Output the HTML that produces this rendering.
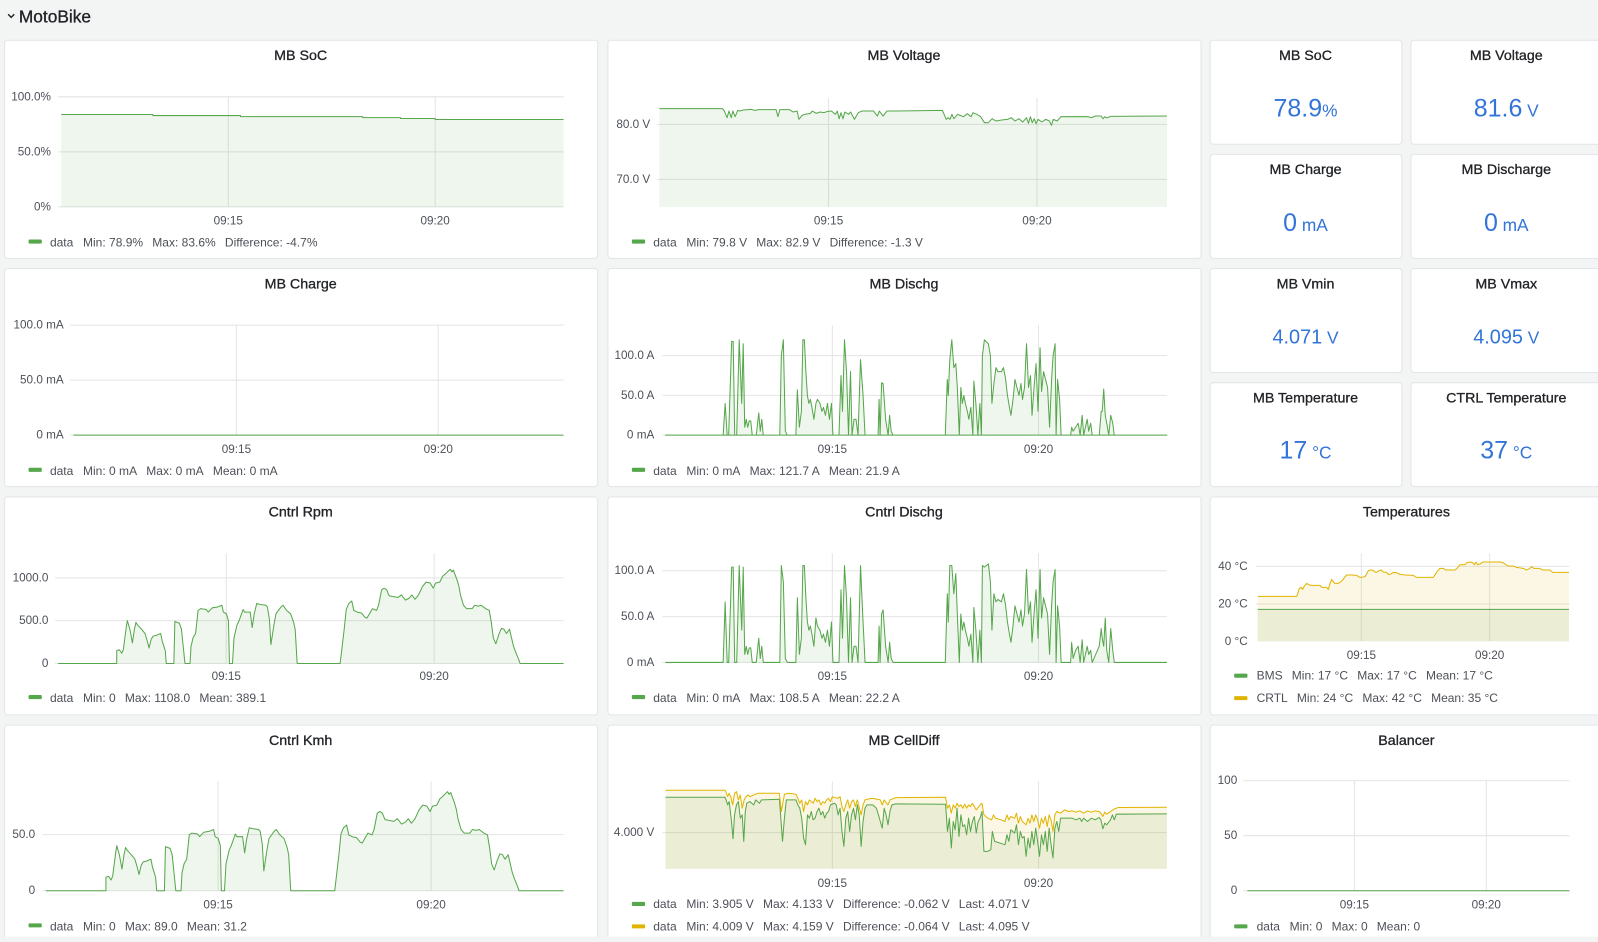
<!DOCTYPE html>
<html><head><meta charset="utf-8">
<style>
html,body{margin:0;padding:0;background:#f3f4f4;width:1598px;height:936px;overflow:hidden}
#r{position:absolute;left:0;top:0;width:1568px;height:919px;transform:scale(1.019133);transform-origin:0 0}
svg text{font-family:"Liberation Sans",Arial,sans-serif}
.p{fill:#fff;stroke:#e2e4e7;stroke-width:1}
.t{font-size:14px;fill:#202226;stroke:#202226;stroke-width:0.3;text-anchor:middle;dominant-baseline:central;transform:translateY(1px)}
.y{font-size:11.5px;fill:#4d5058;text-anchor:end;dominant-baseline:central}
.x{font-size:11.5px;fill:#4d5058;text-anchor:middle;dominant-baseline:central}
.l{font-size:11.8px;fill:#4d5058;dominant-baseline:central;transform:translateY(1px)}
.g{stroke:#e4e4e4;stroke-width:1;fill:none}
.s{fill:none;stroke:#56a64b;stroke-width:1;vector-effect:non-scaling-stroke;stroke-linejoin:round}
.a{fill:#56a64b;fill-opacity:0.1;stroke:none}
.sy{fill:none;stroke:#e0b400;stroke-width:1;vector-effect:non-scaling-stroke;stroke-linejoin:round}
.ay{fill:#e0b400;fill-opacity:0.1;stroke:none}
.v{font-size:24.5px;fill:#3274d9;text-anchor:middle}
.v2{font-size:19.5px;fill:#3274d9;text-anchor:middle}
.u{font-size:17px}
.sw{fill:#56a64b}
.swy{fill:#e0b400}
</style></head>
<body>
<div id="r">
<svg width="1568" height="919" xmlns="http://www.w3.org/2000/svg">
<rect x="0" y="0" width="1568" height="919" fill="#f3f4f4"/>
<!-- header -->
<polyline points="8,14 11,17 14,14" fill="none" stroke="#202226" stroke-width="1.4"/>
<text x="18.5" y="16" style="font-size:17px;fill:#202226;stroke:#202226;stroke-width:0.3;dominant-baseline:central">MotoBike</text>

<!-- ===== Panel A: MB SoC ===== -->
<rect class="p" x="4.5" y="39.5" width="582" height="214" rx="3"/>
<text class="t" x="295" y="54">MB SoC</text>
<path class="g" d="M57,95H553M57,149H553M57,203H553M224,95V203M427,95V203"/>
<text class="y" x="50" y="95">100.0%</text>
<text class="y" x="50" y="149">50.0%</text>
<text class="y" x="50" y="203">0%</text>
<path class="a" d="M60,112.4H150V113.4H236V114.4H356V115.4H393V116.3H427V117.3H553V203H60Z"/>
<path class="s" d="M60,112.4H150V113.4H236V114.4H356V115.4H393V116.3H427V117.3H553"/>
<text class="x" x="224" y="217">09:15</text>
<text class="x" x="427" y="217">09:20</text>
<rect class="sw" x="28" y="235" width="13" height="4" rx="1"/>
<text class="l" x="49" y="237">data<tspan dx="9.5">Min: 78.9%</tspan><tspan dx="9">Max: 83.6%</tspan><tspan dx="9">Difference: -4.7%</tspan></text>

<!-- ===== Panel B: MB Voltage ===== -->
<rect class="p" x="596.5" y="39.5" width="582" height="214" rx="3"/>
<text class="t" x="887" y="54">MB Voltage</text>
<path class="g" d="M645,122H1145M645,176H1145M813,96V203M1017.5,96V203"/>
<text class="y" x="638" y="122">80.0 V</text>
<text class="y" x="638" y="176">70.0 V</text>
<svg x="647" y="96" width="498" height="107" viewBox="180 205.5 1327 327" preserveAspectRatio="none" overflow="visible">
<path class="a" d="M180,238 L345,238 L350,245 L357,265 L362,245 L368,265 L372,245 L378,262 L385,243 L390,245 L400,242 L420,240 L430,243 L440,241 L485,241 L490,262 L495,241 L520,241 L530,248 L540,245 L545,270 L553,258 L560,255 L575,252 L580,245 L590,252 L600,248 L610,250 L620,246 L630,245 L640,255 L645,245 L650,268 L655,250 L660,268 L665,248 L675,255 L680,248 L690,270 L700,250 L710,245 L740,245 L750,260 L755,245 L765,260 L775,245 L800,245 L920,243 L930,270 L935,265 L940,270 L945,255 L950,268 L960,255 L975,262 L985,253 L995,262 L1000,250 L1010,255 L1020,262 L1030,280 L1040,280 L1050,268 L1060,275 L1075,272 L1090,270 L1100,265 L1110,275 L1120,268 L1130,278 L1140,265 L1145,282 L1150,262 L1155,280 L1160,268 L1165,283 L1170,270 L1180,278 L1190,270 L1200,275 L1205,288 L1210,270 L1220,275 L1225,268 L1230,262 L1300,262 L1310,265 L1320,260 L1335,260 L1340,268 L1345,262 L1350,266 L1360,261 L1507,260 L1507,532.5 L180,532.5Z"/>
<path class="s" d="M180,238 L345,238 L350,245 L357,265 L362,245 L368,265 L372,245 L378,262 L385,243 L390,245 L400,242 L420,240 L430,243 L440,241 L485,241 L490,262 L495,241 L520,241 L530,248 L540,245 L545,270 L553,258 L560,255 L575,252 L580,245 L590,252 L600,248 L610,250 L620,246 L630,245 L640,255 L645,245 L650,268 L655,250 L660,268 L665,248 L675,255 L680,248 L690,270 L700,250 L710,245 L740,245 L750,260 L755,245 L765,260 L775,245 L800,245 L920,243 L930,270 L935,265 L940,270 L945,255 L950,268 L960,255 L975,262 L985,253 L995,262 L1000,250 L1010,255 L1020,262 L1030,280 L1040,280 L1050,268 L1060,275 L1075,272 L1090,270 L1100,265 L1110,275 L1120,268 L1130,278 L1140,265 L1145,282 L1150,262 L1155,280 L1160,268 L1165,283 L1170,270 L1180,278 L1190,270 L1200,275 L1205,288 L1210,270 L1220,275 L1225,268 L1230,262 L1300,262 L1310,265 L1320,260 L1335,260 L1340,268 L1345,262 L1350,266 L1360,261 L1507,260"/>
</svg>
<text class="x" x="813" y="217">09:15</text>
<text class="x" x="1017.5" y="217">09:20</text>
<rect class="sw" x="620" y="235" width="13" height="4" rx="1"/>
<text class="l" x="641" y="237">data<tspan dx="9.5">Min: 79.8 V</tspan><tspan dx="9">Max: 82.9 V</tspan><tspan dx="9">Difference: -1.3 V</tspan></text>

<!-- ===== Stat panels ===== -->
<rect class="p" x="1187.5" y="39.5" width="188" height="102" rx="3"/>
<rect class="p" x="1384.5" y="39.5" width="189" height="102" rx="3"/>
<rect class="p" x="1187.5" y="151.5" width="188" height="102" rx="3"/>
<rect class="p" x="1384.5" y="151.5" width="189" height="102" rx="3"/>
<rect class="p" x="1187.5" y="263.5" width="188" height="102" rx="3"/>
<rect class="p" x="1384.5" y="263.5" width="189" height="102" rx="3"/>
<rect class="p" x="1187.5" y="375.5" width="188" height="102" rx="3"/>
<rect class="p" x="1384.5" y="375.5" width="189" height="102" rx="3"/>
<text class="t" x="1281" y="54">MB SoC</text>
<text class="t" x="1478" y="54">MB Voltage</text>
<text class="t" x="1281" y="166">MB Charge</text>
<text class="t" x="1478" y="166">MB Discharge</text>
<text class="t" x="1281" y="278">MB Vmin</text>
<text class="t" x="1478" y="278">MB Vmax</text>
<text class="t" x="1281" y="390">MB Temperature</text>
<text class="t" x="1478" y="390">CTRL Temperature</text>
<text class="v" x="1281" y="114.5">78.9<tspan class="u">%</tspan></text>
<text class="v" x="1478" y="114.5">81.6<tspan class="u"> V</tspan></text>
<text class="v" x="1281" y="226.5">0<tspan class="u"> mA</tspan></text>
<text class="v" x="1478" y="226.5">0<tspan class="u"> mA</tspan></text>
<text class="v2" x="1281" y="337">4.071<tspan class="u"> V</tspan></text>
<text class="v2" x="1478" y="337">4.095<tspan class="u"> V</tspan></text>
<text class="v" x="1281" y="450">17<tspan class="u"> °C</tspan></text>
<text class="v" x="1478" y="450">37<tspan class="u"> °C</tspan></text>

<!-- ===== Panel C: MB Charge ===== -->
<rect class="p" x="4.5" y="263.5" width="582" height="214" rx="3"/>
<text class="t" x="295" y="278">MB Charge</text>
<path class="g" d="M69,319H553M69,373H553M69,427H553M232,319V427M430,319V427"/>
<text class="y" x="62.5" y="319">100.0 mA</text>
<text class="y" x="62.5" y="373">50.0 mA</text>
<text class="y" x="62.5" y="427">0 mA</text>
<path class="s" d="M72,427H553"/>
<text class="x" x="232" y="441">09:15</text>
<text class="x" x="430" y="441">09:20</text>
<rect class="sw" x="28" y="459" width="13" height="4" rx="1"/>
<text class="l" x="49" y="461">data<tspan dx="9.5">Min: 0 mA</tspan><tspan dx="9">Max: 0 mA</tspan><tspan dx="9">Mean: 0 mA</tspan></text>

<!-- ===== Panel D: MB Dischg ===== -->
<rect class="p" x="596.5" y="263.5" width="582" height="214" rx="3"/>
<text class="t" x="887" y="278">MB Dischg</text>
<path class="g" d="M650,349H1145M650,388H1145M650,427H1145M816.7,319V427M1019,319V427"/>
<text class="y" x="642" y="349">100.0 A</text>
<text class="y" x="642" y="388">50.0 A</text>
<text class="y" x="642" y="427">0 mA</text>
<svg x="653" y="319" width="492" height="108" viewBox="0 -138.5 1000 138.5" preserveAspectRatio="none" overflow="visible">
<path class="a" d="M0,0 L115,0 L119,-40 L123,0 L126,0 L132,-118 L135,-118 L138,0 L142,0 L147,-120 L152,-40 L155,-115 L158,-10 L161,-20 L164,-10 L167,-18 L170,-18 L173,0 L181,0 L186,-28 L189,-5 L192,-20 L195,0 L228,0 L231,-100 L235,-120 L239,-5 L243,0 L260,0 L263,-57 L267,-10 L271,-30 L274,-120 L277,-120 L280,-80 L283,-50 L286,-40 L289,-45 L292,-35 L296,-20 L300,-40 L303,-45 L308,-40 L312,-30 L315,-35 L319,-25 L323,-40 L327,-20 L331,-40 L334,0 L346,0 L350,-75 L353,-30 L357,-120 L361,-80 L365,0 L369,-80 L372,0 L376,-20 L380,-20 L384,0 L389,-95 L394,-50 L398,0 L424,0 L426,-45 L428,0 L431,-66 L434,-65 L439,-20 L444,0 L447,-25 L450,-5 L454,0 L558,0 L562,-70 L564,-50 L567,-95 L571,-120 L575,-85 L579,-90 L582,-60 L586,0 L589,-60 L592,-40 L595,-50 L598,-40 L602,-30 L605,-20 L609,-35 L613,0 L615,-68 L619,-40 L623,0 L627,-40 L630,0 L632,-100 L636,-120 L644,-115 L648,-100 L651,-40 L655,-65 L659,-85 L663,-80 L670,-80 L674,-85 L678,-72 L682,-50 L686,-35 L689,-25 L693,-45 L697,-70 L701,-60 L705,-50 L709,-65 L712,-45 L716,-60 L720,-115 L724,-60 L728,-75 L731,-25 L735,-60 L739,-90 L743,-30 L747,-110 L750,-55 L754,-80 L758,-70 L762,-60 L766,-10 L770,-70 L773,-100 L777,-115 L779,0 L782,-70 L786,-45 L789,0 L808,0 L810,-10 L813,-5 L818,-10 L823,-15 L827,0 L831,-25 L834,0 L841,-20 L844,-5 L848,-15 L851,0 L865,0 L869,-30 L871,-30 L874,-58 L877,-25 L880,-15 L884,0 L888,-25 L892,-15 L895,0 L1000,0 Z"/>
<path class="s" d="M0,0 L115,0 L119,-40 L123,0 L126,0 L132,-118 L135,-118 L138,0 L142,0 L147,-120 L152,-40 L155,-115 L158,-10 L161,-20 L164,-10 L167,-18 L170,-18 L173,0 L181,0 L186,-28 L189,-5 L192,-20 L195,0 L228,0 L231,-100 L235,-120 L239,-5 L243,0 L260,0 L263,-57 L267,-10 L271,-30 L274,-120 L277,-120 L280,-80 L283,-50 L286,-40 L289,-45 L292,-35 L296,-20 L300,-40 L303,-45 L308,-40 L312,-30 L315,-35 L319,-25 L323,-40 L327,-20 L331,-40 L334,0 L346,0 L350,-75 L353,-30 L357,-120 L361,-80 L365,0 L369,-80 L372,0 L376,-20 L380,-20 L384,0 L389,-95 L394,-50 L398,0 L424,0 L426,-45 L428,0 L431,-66 L434,-65 L439,-20 L444,0 L447,-25 L450,-5 L454,0 L558,0 L562,-70 L564,-50 L567,-95 L571,-120 L575,-85 L579,-90 L582,-60 L586,0 L589,-60 L592,-40 L595,-50 L598,-40 L602,-30 L605,-20 L609,-35 L613,0 L615,-68 L619,-40 L623,0 L627,-40 L630,0 L632,-100 L636,-120 L644,-115 L648,-100 L651,-40 L655,-65 L659,-85 L663,-80 L670,-80 L674,-85 L678,-72 L682,-50 L686,-35 L689,-25 L693,-45 L697,-70 L701,-60 L705,-50 L709,-65 L712,-45 L716,-60 L720,-115 L724,-60 L728,-75 L731,-25 L735,-60 L739,-90 L743,-30 L747,-110 L750,-55 L754,-80 L758,-70 L762,-60 L766,-10 L770,-70 L773,-100 L777,-115 L779,0 L782,-70 L786,-45 L789,0 L808,0 L810,-10 L813,-5 L818,-10 L823,-15 L827,0 L831,-25 L834,0 L841,-20 L844,-5 L848,-15 L851,0 L865,0 L869,-30 L871,-30 L874,-58 L877,-25 L880,-15 L884,0 L888,-25 L892,-15 L895,0 L1000,0 Z"/>
</svg>
<text class="x" x="816.7" y="441">09:15</text>
<text class="x" x="1019" y="441">09:20</text>
<rect class="sw" x="620" y="459" width="13" height="4" rx="1"/>
<text class="l" x="641" y="461">data<tspan dx="9.5">Min: 0 mA</tspan><tspan dx="9">Max: 121.7 A</tspan><tspan dx="9">Mean: 21.9 A</tspan></text>

<!-- ===== Panel E: Cntrl Rpm ===== -->
<rect class="p" x="4.5" y="487.5" width="582" height="214" rx="3"/>
<text class="t" x="295" y="502">Cntrl Rpm</text>
<path class="g" d="M54,567H553M54,609H553M54,651H553M222,543V651M426,543V651"/>
<text class="y" x="47.5" y="567">1000.0</text>
<text class="y" x="47.5" y="609">500.0</text>
<text class="y" x="47.5" y="651">0</text>
<svg x="57" y="543" width="496" height="108" viewBox="0 -1285.7 1000 1285.7" preserveAspectRatio="none" overflow="visible">
<path class="a" d="M0,0 L116,0 L116,-150 L121,-160 L126,-120 L129,-160 L135,-430 L137,-500 L142,-400 L147,-240 L151,-400 L154,-480 L157,-450 L165,-400 L172,-350 L177,-250 L180,-180 L184,-280 L188,-320 L195,-330 L203,-350 L206,-260 L212,-150 L214,0 L229,0 L231,-490 L240,-470 L244,-400 L251,0 L261,0 L263,-200 L267,-300 L272,-350 L277,-620 L282,-640 L293,-630 L297,-600 L305,-650 L316,-660 L324,-680 L327,-600 L333,-580 L337,-500 L339,0 L345,0 L348,-300 L354,-450 L358,-500 L366,-630 L369,-600 L380,-600 L384,-420 L388,-580 L393,-700 L399,-690 L411,-680 L414,-660 L418,-520 L421,-220 L427,-450 L431,-580 L441,-660 L445,-680 L452,-620 L460,-580 L466,-480 L469,-400 L473,0 L558,0 L560,-100 L566,-400 L570,-630 L575,-700 L581,-730 L585,-620 L592,-600 L600,-590 L607,-540 L611,-530 L615,-570 L622,-640 L630,-620 L634,-680 L640,-860 L645,-880 L650,-860 L655,-790 L664,-780 L672,-770 L679,-800 L687,-740 L694,-760 L700,-800 L706,-750 L713,-800 L721,-900 L728,-950 L736,-940 L742,-880 L747,-940 L755,-950 L761,-1020 L767,-1050 L772,-1080 L776,-1100 L779,-1070 L782,-1090 L789,-980 L793,-900 L796,-800 L802,-680 L808,-640 L819,-640 L824,-680 L831,-670 L837,-680 L846,-640 L853,-620 L857,-480 L861,-300 L866,-230 L872,-340 L877,-410 L882,-400 L887,-350 L893,-400 L897,-300 L901,-200 L906,-120 L911,-50 L914,0 L1000,0 Z"/>
<path class="s" d="M0,0 L116,0 L116,-150 L121,-160 L126,-120 L129,-160 L135,-430 L137,-500 L142,-400 L147,-240 L151,-400 L154,-480 L157,-450 L165,-400 L172,-350 L177,-250 L180,-180 L184,-280 L188,-320 L195,-330 L203,-350 L206,-260 L212,-150 L214,0 L229,0 L231,-490 L240,-470 L244,-400 L251,0 L261,0 L263,-200 L267,-300 L272,-350 L277,-620 L282,-640 L293,-630 L297,-600 L305,-650 L316,-660 L324,-680 L327,-600 L333,-580 L337,-500 L339,0 L345,0 L348,-300 L354,-450 L358,-500 L366,-630 L369,-600 L380,-600 L384,-420 L388,-580 L393,-700 L399,-690 L411,-680 L414,-660 L418,-520 L421,-220 L427,-450 L431,-580 L441,-660 L445,-680 L452,-620 L460,-580 L466,-480 L469,-400 L473,0 L558,0 L560,-100 L566,-400 L570,-630 L575,-700 L581,-730 L585,-620 L592,-600 L600,-590 L607,-540 L611,-530 L615,-570 L622,-640 L630,-620 L634,-680 L640,-860 L645,-880 L650,-860 L655,-790 L664,-780 L672,-770 L679,-800 L687,-740 L694,-760 L700,-800 L706,-750 L713,-800 L721,-900 L728,-950 L736,-940 L742,-880 L747,-940 L755,-950 L761,-1020 L767,-1050 L772,-1080 L776,-1100 L779,-1070 L782,-1090 L789,-980 L793,-900 L796,-800 L802,-680 L808,-640 L819,-640 L824,-680 L831,-670 L837,-680 L846,-640 L853,-620 L857,-480 L861,-300 L866,-230 L872,-340 L877,-410 L882,-400 L887,-350 L893,-400 L897,-300 L901,-200 L906,-120 L911,-50 L914,0 L1000,0"/>
</svg>
<text class="x" x="222" y="664">09:15</text>
<text class="x" x="426" y="664">09:20</text>
<rect class="sw" x="28" y="682" width="13" height="4" rx="1"/>
<text class="l" x="49" y="684">data<tspan dx="9.5">Min: 0</tspan><tspan dx="9">Max: 1108.0</tspan><tspan dx="9">Mean: 389.1</tspan></text>

<!-- ===== Panel F: Cntrl Dischg ===== -->
<rect class="p" x="596.5" y="487.5" width="582" height="214" rx="3"/>
<text class="t" x="887" y="502">Cntrl Dischg</text>
<path class="g" d="M650,560H1145M650,605H1145M650,650H1145M816.7,543V650M1019,543V650"/>
<text class="y" x="642" y="560">100.0 A</text>
<text class="y" x="642" y="605">50.0 A</text>
<text class="y" x="642" y="650">0 mA</text>
<svg x="653" y="543" width="492" height="107" viewBox="0 -135 1000 135" preserveAspectRatio="none" overflow="visible">
<path class="a" d="M0,0 L115,0 L119,-75 L123,0 L126,0 L132,-118 L135,-118 L138,0 L142,0 L147,-120 L152,-40 L155,-118 L158,-10 L161,-20 L164,-10 L167,-18 L170,-18 L173,0 L181,0 L186,-30 L189,-5 L192,-20 L195,0 L228,0 L231,-120 L235,-100 L239,-5 L243,0 L260,0 L263,-80 L267,-10 L271,-30 L274,-120 L277,-120 L280,-80 L283,-50 L286,-40 L289,-45 L292,-35 L296,-20 L300,-55 L303,-45 L308,-40 L312,-30 L315,-35 L319,-25 L323,-40 L327,-20 L331,-50 L334,0 L346,0 L350,-90 L353,-30 L357,-120 L361,-80 L365,0 L369,-80 L372,0 L376,-20 L380,-20 L384,0 L389,-120 L394,-50 L398,0 L424,0 L426,-45 L428,0 L431,-60 L434,-65 L439,-20 L444,0 L447,-25 L450,-5 L454,0 L558,0 L562,-85 L564,-50 L567,-120 L571,-120 L575,-85 L579,-110 L582,-60 L586,0 L589,-60 L592,-40 L595,-50 L598,-40 L602,-30 L605,-20 L609,-35 L613,0 L615,-68 L619,-40 L623,0 L627,-40 L630,0 L632,-120 L636,-118 L644,-122 L648,-100 L651,-40 L655,-85 L659,-75 L663,-78 L670,-75 L674,-85 L678,-72 L682,-50 L686,-35 L689,-25 L693,-45 L697,-70 L701,-60 L705,-50 L709,-65 L712,-45 L716,-60 L720,-115 L724,-60 L728,-75 L731,-25 L735,-60 L739,-90 L743,-30 L747,-115 L750,-55 L754,-80 L758,-70 L762,-60 L766,-10 L770,-70 L773,-100 L777,-115 L779,0 L782,-70 L786,-45 L789,0 L808,0 L810,-25 L813,-5 L818,-15 L823,-20 L827,0 L831,-28 L834,0 L841,-20 L844,-10 L848,-15 L851,0 L865,-20 L869,-42 L871,-30 L874,-20 L877,-55 L880,-15 L884,0 L888,-42 L892,-15 L895,0 L1000,0 Z"/>
<path class="s" d="M0,0 L115,0 L119,-75 L123,0 L126,0 L132,-118 L135,-118 L138,0 L142,0 L147,-120 L152,-40 L155,-118 L158,-10 L161,-20 L164,-10 L167,-18 L170,-18 L173,0 L181,0 L186,-30 L189,-5 L192,-20 L195,0 L228,0 L231,-120 L235,-100 L239,-5 L243,0 L260,0 L263,-80 L267,-10 L271,-30 L274,-120 L277,-120 L280,-80 L283,-50 L286,-40 L289,-45 L292,-35 L296,-20 L300,-55 L303,-45 L308,-40 L312,-30 L315,-35 L319,-25 L323,-40 L327,-20 L331,-50 L334,0 L346,0 L350,-90 L353,-30 L357,-120 L361,-80 L365,0 L369,-80 L372,0 L376,-20 L380,-20 L384,0 L389,-120 L394,-50 L398,0 L424,0 L426,-45 L428,0 L431,-60 L434,-65 L439,-20 L444,0 L447,-25 L450,-5 L454,0 L558,0 L562,-85 L564,-50 L567,-120 L571,-120 L575,-85 L579,-110 L582,-60 L586,0 L589,-60 L592,-40 L595,-50 L598,-40 L602,-30 L605,-20 L609,-35 L613,0 L615,-68 L619,-40 L623,0 L627,-40 L630,0 L632,-120 L636,-118 L644,-122 L648,-100 L651,-40 L655,-85 L659,-75 L663,-78 L670,-75 L674,-85 L678,-72 L682,-50 L686,-35 L689,-25 L693,-45 L697,-70 L701,-60 L705,-50 L709,-65 L712,-45 L716,-60 L720,-115 L724,-60 L728,-75 L731,-25 L735,-60 L739,-90 L743,-30 L747,-115 L750,-55 L754,-80 L758,-70 L762,-60 L766,-10 L770,-70 L773,-100 L777,-115 L779,0 L782,-70 L786,-45 L789,0 L808,0 L810,-25 L813,-5 L818,-15 L823,-20 L827,0 L831,-28 L834,0 L841,-20 L844,-10 L848,-15 L851,0 L865,-20 L869,-42 L871,-30 L874,-20 L877,-55 L880,-15 L884,0 L888,-42 L892,-15 L895,0 L1000,0"/>
</svg>
<text class="x" x="816.7" y="664">09:15</text>
<text class="x" x="1019" y="664">09:20</text>
<rect class="sw" x="620" y="682" width="13" height="4" rx="1"/>
<text class="l" x="641" y="684">data<tspan dx="9.5">Min: 0 mA</tspan><tspan dx="9">Max: 108.5 A</tspan><tspan dx="9">Mean: 22.2 A</tspan></text>

<!-- ===== Panel G: Temperatures ===== -->
<rect class="p" x="1187.5" y="487.5" width="386" height="214" rx="3"/>
<text class="t" x="1380" y="502">Temperatures</text>
<path class="g" d="M1232,555.7H1540M1232,592.7H1540M1335.8,543V629.3M1461.7,543V629.3"/>
<text class="y" x="1224.3" y="555.7">40 °C</text>
<text class="y" x="1224.3" y="592.7">20 °C</text>
<text class="y" x="1224.3" y="629.3">0 °C</text>
<svg x="1234.1" y="543" width="305.4" height="86.3" viewBox="233 220 934 264" preserveAspectRatio="none" overflow="visible">
<path class="ay" d="M233,349 L350,349 L355,335 L358,325 L363,322 L368,328 L373,318 L380,310 L388,315 L395,316 L420,316 L425,322 L440,322 L445,328 L450,310 L455,298 L460,305 L465,310 L475,310 L480,307 L488,300 L495,290 L500,285 L515,285 L530,286 L540,292 L555,290 L565,272 L570,270 L580,271 L585,276 L590,277 L597,272 L604,270 L610,276 L620,277 L625,283 L630,283 L640,277 L650,278 L660,283 L675,285 L700,286 L710,292 L760,292 L770,276 L780,265 L790,265 L797,270 L825,270 L832,264 L840,254 L855,254 L860,248 L870,246 L878,248 L883,254 L888,246 L893,254 L900,252 L905,248 L910,246 L960,246 L970,248 L975,252 L985,258 L1000,258 L1010,262 L1030,265 L1040,270 L1048,266 L1055,260 L1062,265 L1080,265 L1087,270 L1110,270 L1118,277 L1167,277 L1167,484 L233,484Z"/>
<path class="a" d="M233,388 L1167,388 L1167,484 L233,484Z"/>
<path class="s" d="M233,388 L1167,388"/>
<path class="sy" d="M233,349 L350,349 L355,335 L358,325 L363,322 L368,328 L373,318 L380,310 L388,315 L395,316 L420,316 L425,322 L440,322 L445,328 L450,310 L455,298 L460,305 L465,310 L475,310 L480,307 L488,300 L495,290 L500,285 L515,285 L530,286 L540,292 L555,290 L565,272 L570,270 L580,271 L585,276 L590,277 L597,272 L604,270 L610,276 L620,277 L625,283 L630,283 L640,277 L650,278 L660,283 L675,285 L700,286 L710,292 L760,292 L770,276 L780,265 L790,265 L797,270 L825,270 L832,264 L840,254 L855,254 L860,248 L870,246 L878,248 L883,254 L888,246 L893,254 L900,252 L905,248 L910,246 L960,246 L970,248 L975,252 L985,258 L1000,258 L1010,262 L1030,265 L1040,270 L1048,266 L1055,260 L1062,265 L1080,265 L1087,270 L1110,270 L1118,277 L1167,277"/>
</svg>
<text class="x" x="1335.8" y="643.4">09:15</text>
<text class="x" x="1461.7" y="643.4">09:20</text>
<rect class="sw" x="1211" y="661" width="13" height="4" rx="1"/>
<text class="l" x="1233" y="662">BMS<tspan dx="9">Min: 17 °C</tspan><tspan dx="9">Max: 17 °C</tspan><tspan dx="9">Mean: 17 °C</tspan></text>
<rect class="swy" x="1211" y="683" width="13" height="4" rx="1"/>
<text class="l" x="1233" y="684">CRTL<tspan dx="9">Min: 24 °C</tspan><tspan dx="9">Max: 42 °C</tspan><tspan dx="9">Mean: 35 °C</tspan></text>

<!-- ===== Panel H: Cntrl Kmh ===== -->
<rect class="p" x="4.5" y="711.5" width="582" height="240" rx="3"/>
<text class="t" x="295" y="726">Cntrl Kmh</text>
<path class="g" d="M42,819H553M42,874H553M214,767V874M423,767V874"/>
<text class="y" x="34.5" y="819">50.0</text>
<text class="y" x="34.5" y="874">0</text>
<svg x="45" y="767" width="508" height="107" viewBox="0 -1211 1000 1211" preserveAspectRatio="none" overflow="visible">
<path class="a" d="M0,0 L116,0 L116,-150 L121,-160 L126,-120 L129,-160 L135,-430 L137,-500 L142,-400 L147,-240 L151,-400 L154,-480 L157,-450 L165,-400 L172,-350 L177,-250 L180,-180 L184,-280 L188,-320 L195,-330 L203,-350 L206,-260 L212,-150 L214,0 L229,0 L231,-490 L240,-470 L244,-400 L251,0 L261,0 L263,-200 L267,-300 L272,-350 L277,-620 L282,-640 L293,-630 L297,-600 L305,-650 L316,-660 L324,-680 L327,-600 L333,-580 L337,-500 L339,0 L345,0 L348,-300 L354,-450 L358,-500 L366,-630 L369,-600 L380,-600 L384,-420 L388,-580 L393,-700 L399,-690 L411,-680 L414,-660 L418,-520 L421,-220 L427,-450 L431,-580 L441,-660 L445,-680 L452,-620 L460,-580 L466,-480 L469,-400 L473,0 L558,0 L560,-100 L566,-400 L570,-630 L575,-700 L581,-730 L585,-620 L592,-600 L600,-590 L607,-540 L611,-530 L615,-570 L622,-640 L630,-620 L634,-680 L640,-860 L645,-880 L650,-860 L655,-790 L664,-780 L672,-770 L679,-800 L687,-740 L694,-760 L700,-800 L706,-750 L713,-800 L721,-900 L728,-950 L736,-940 L742,-880 L747,-940 L755,-950 L761,-1020 L767,-1050 L772,-1080 L776,-1100 L779,-1070 L782,-1090 L789,-980 L793,-900 L796,-800 L802,-680 L808,-640 L819,-640 L824,-680 L831,-670 L837,-680 L846,-640 L853,-620 L857,-480 L861,-300 L866,-230 L872,-340 L877,-410 L882,-400 L887,-350 L893,-400 L897,-300 L901,-200 L906,-120 L911,-50 L914,0 L1000,0 Z"/>
<path class="s" d="M0,0 L116,0 L116,-150 L121,-160 L126,-120 L129,-160 L135,-430 L137,-500 L142,-400 L147,-240 L151,-400 L154,-480 L157,-450 L165,-400 L172,-350 L177,-250 L180,-180 L184,-280 L188,-320 L195,-330 L203,-350 L206,-260 L212,-150 L214,0 L229,0 L231,-490 L240,-470 L244,-400 L251,0 L261,0 L263,-200 L267,-300 L272,-350 L277,-620 L282,-640 L293,-630 L297,-600 L305,-650 L316,-660 L324,-680 L327,-600 L333,-580 L337,-500 L339,0 L345,0 L348,-300 L354,-450 L358,-500 L366,-630 L369,-600 L380,-600 L384,-420 L388,-580 L393,-700 L399,-690 L411,-680 L414,-660 L418,-520 L421,-220 L427,-450 L431,-580 L441,-660 L445,-680 L452,-620 L460,-580 L466,-480 L469,-400 L473,0 L558,0 L560,-100 L566,-400 L570,-630 L575,-700 L581,-730 L585,-620 L592,-600 L600,-590 L607,-540 L611,-530 L615,-570 L622,-640 L630,-620 L634,-680 L640,-860 L645,-880 L650,-860 L655,-790 L664,-780 L672,-770 L679,-800 L687,-740 L694,-760 L700,-800 L706,-750 L713,-800 L721,-900 L728,-950 L736,-940 L742,-880 L747,-940 L755,-950 L761,-1020 L767,-1050 L772,-1080 L776,-1100 L779,-1070 L782,-1090 L789,-980 L793,-900 L796,-800 L802,-680 L808,-640 L819,-640 L824,-680 L831,-670 L837,-680 L846,-640 L853,-620 L857,-480 L861,-300 L866,-230 L872,-340 L877,-410 L882,-400 L887,-350 L893,-400 L897,-300 L901,-200 L906,-120 L911,-50 L914,0 L1000,0"/>
</svg>
<text class="x" x="214" y="888">09:15</text>
<text class="x" x="423" y="888">09:20</text>
<rect class="sw" x="28" y="906" width="13" height="4" rx="1"/>
<text class="l" x="49" y="908">data<tspan dx="9.5">Min: 0</tspan><tspan dx="9">Max: 89.0</tspan><tspan dx="9">Mean: 31.2</tspan></text>

<!-- ===== Panel I: MB CellDiff ===== -->
<rect class="p" x="596.5" y="711.5" width="582" height="240" rx="3"/>
<text class="t" x="887" y="726">MB CellDiff</text>
<path class="g" d="M650,817H1145M816.7,767V852.6M1019,767V852.6"/>
<text class="y" x="642" y="817">4.000 V</text>
<svg x="653" y="767" width="492" height="85.6" viewBox="200 230 1307 263" preserveAspectRatio="none" overflow="visible">
<path class="ay" d="M200,256 L355,256 L358,262 L362,275 L366,265 L370,275 L375,300 L380,265 L385,260 L390,285 L395,270 L400,310 L405,285 L410,275 L415,270 L420,275 L430,270 L440,265 L497,265 L502,320 L510,268 L520,265 L540,268 L545,280 L550,295 L555,285 L560,320 L565,290 L570,300 L575,285 L580,290 L585,295 L590,280 L595,290 L600,285 L605,300 L610,290 L615,295 L620,285 L625,280 L630,290 L635,275 L640,278 L650,280 L655,275 L660,305 L665,320 L670,300 L675,285 L680,310 L685,290 L690,285 L695,305 L700,285 L710,330 L715,300 L720,285 L730,282 L740,280 L760,285 L765,300 L770,285 L780,300 L785,285 L800,278 L930,277 L935,310 L940,300 L945,325 L950,300 L955,310 L960,295 L965,305 L970,300 L975,310 L980,298 L985,310 L990,300 L995,305 L1000,295 L1010,315 L1020,300 L1025,295 L1030,330 L1040,340 L1050,345 L1055,330 L1060,340 L1075,345 L1085,350 L1090,330 L1095,345 L1100,335 L1110,340 L1115,325 L1120,355 L1125,335 L1130,350 L1140,360 L1145,340 L1150,355 L1155,330 L1160,350 L1165,330 L1170,345 L1175,370 L1180,340 L1185,355 L1190,335 L1195,365 L1200,330 L1205,345 L1210,380 L1215,330 L1220,320 L1230,325 L1240,315 L1250,320 L1260,318 L1270,322 L1280,318 L1290,325 L1300,318 L1310,322 L1320,318 L1330,320 L1335,325 L1340,335 L1345,322 L1350,328 L1360,320 L1370,312 L1380,308 L1507,307 L1507,493 L200,493Z"/>
<path class="a" d="M200,277 L355,277 L358,285 L362,300 L366,290 L372,350 L376,402 L380,330 L385,300 L390,290 L395,340 L400,330 L404,410 L408,320 L412,295 L420,290 L430,300 L435,285 L445,295 L450,285 L497,283 L500,330 L505,410 L510,340 L515,285 L540,285 L545,300 L550,310 L555,340 L560,400 L565,420 L570,330 L575,340 L580,320 L585,345 L590,340 L595,320 L600,310 L605,330 L610,320 L615,340 L620,325 L625,320 L630,300 L640,295 L645,300 L650,330 L655,310 L660,380 L665,425 L670,340 L675,320 L680,380 L685,330 L690,310 L695,345 L700,300 L705,330 L710,425 L715,350 L720,310 L725,300 L740,300 L750,310 L755,330 L760,350 L765,370 L770,310 L775,330 L780,360 L785,320 L790,300 L800,297 L930,298 L935,380 L940,340 L945,430 L950,350 L955,375 L960,310 L965,395 L970,330 L975,365 L980,360 L985,390 L990,340 L995,380 L1000,350 L1005,335 L1010,385 L1015,350 L1020,340 L1025,320 L1030,440 L1040,440 L1048,435 L1052,380 L1058,410 L1085,420 L1090,390 L1095,410 L1100,375 L1105,380 L1110,385 L1115,360 L1120,420 L1125,380 L1130,400 L1135,395 L1140,455 L1145,400 L1150,430 L1155,380 L1160,420 L1165,370 L1170,410 L1175,455 L1180,390 L1185,420 L1190,380 L1195,440 L1200,370 L1205,420 L1210,460 L1215,370 L1220,350 L1225,380 L1230,340 L1260,340 L1270,345 L1280,340 L1285,350 L1290,340 L1300,350 L1310,340 L1320,345 L1330,338 L1335,345 L1340,372 L1345,355 L1350,360 L1360,345 L1365,330 L1370,345 L1375,328 L1507,327 L1507,493 L200,493Z"/>
<path class="s" d="M200,277 L355,277 L358,285 L362,300 L366,290 L372,350 L376,402 L380,330 L385,300 L390,290 L395,340 L400,330 L404,410 L408,320 L412,295 L420,290 L430,300 L435,285 L445,295 L450,285 L497,283 L500,330 L505,410 L510,340 L515,285 L540,285 L545,300 L550,310 L555,340 L560,400 L565,420 L570,330 L575,340 L580,320 L585,345 L590,340 L595,320 L600,310 L605,330 L610,320 L615,340 L620,325 L625,320 L630,300 L640,295 L645,300 L650,330 L655,310 L660,380 L665,425 L670,340 L675,320 L680,380 L685,330 L690,310 L695,345 L700,300 L705,330 L710,425 L715,350 L720,310 L725,300 L740,300 L750,310 L755,330 L760,350 L765,370 L770,310 L775,330 L780,360 L785,320 L790,300 L800,297 L930,298 L935,380 L940,340 L945,430 L950,350 L955,375 L960,310 L965,395 L970,330 L975,365 L980,360 L985,390 L990,340 L995,380 L1000,350 L1005,335 L1010,385 L1015,350 L1020,340 L1025,320 L1030,440 L1040,440 L1048,435 L1052,380 L1058,410 L1085,420 L1090,390 L1095,410 L1100,375 L1105,380 L1110,385 L1115,360 L1120,420 L1125,380 L1130,400 L1135,395 L1140,455 L1145,400 L1150,430 L1155,380 L1160,420 L1165,370 L1170,410 L1175,455 L1180,390 L1185,420 L1190,380 L1195,440 L1200,370 L1205,420 L1210,460 L1215,370 L1220,350 L1225,380 L1230,340 L1260,340 L1270,345 L1280,340 L1285,350 L1290,340 L1300,350 L1310,340 L1320,345 L1330,338 L1335,345 L1340,372 L1345,355 L1350,360 L1360,345 L1365,330 L1370,345 L1375,328 L1507,327"/>
<path class="sy" d="M200,256 L355,256 L358,262 L362,275 L366,265 L370,275 L375,300 L380,265 L385,260 L390,285 L395,270 L400,310 L405,285 L410,275 L415,270 L420,275 L430,270 L440,265 L497,265 L502,320 L510,268 L520,265 L540,268 L545,280 L550,295 L555,285 L560,320 L565,290 L570,300 L575,285 L580,290 L585,295 L590,280 L595,290 L600,285 L605,300 L610,290 L615,295 L620,285 L625,280 L630,290 L635,275 L640,278 L650,280 L655,275 L660,305 L665,320 L670,300 L675,285 L680,310 L685,290 L690,285 L695,305 L700,285 L710,330 L715,300 L720,285 L730,282 L740,280 L760,285 L765,300 L770,285 L780,300 L785,285 L800,278 L930,277 L935,310 L940,300 L945,325 L950,300 L955,310 L960,295 L965,305 L970,300 L975,310 L980,298 L985,310 L990,300 L995,305 L1000,295 L1010,315 L1020,300 L1025,295 L1030,330 L1040,340 L1050,345 L1055,330 L1060,340 L1075,345 L1085,350 L1090,330 L1095,345 L1100,335 L1110,340 L1115,325 L1120,355 L1125,335 L1130,350 L1140,360 L1145,340 L1150,355 L1155,330 L1160,350 L1165,330 L1170,345 L1175,370 L1180,340 L1185,355 L1190,335 L1195,365 L1200,330 L1205,345 L1210,380 L1215,330 L1220,320 L1230,325 L1240,315 L1250,320 L1260,318 L1270,322 L1280,318 L1290,325 L1300,318 L1310,322 L1320,318 L1330,320 L1335,325 L1340,335 L1345,322 L1350,328 L1360,320 L1370,312 L1380,308 L1507,307"/>
</svg>
<text class="x" x="816.7" y="867">09:15</text>
<text class="x" x="1019" y="867">09:20</text>
<rect class="sw" x="620" y="885" width="13" height="4" rx="1"/>
<text class="l" x="641" y="886">data<tspan dx="9.5">Min: 3.905 V</tspan><tspan dx="9">Max: 4.133 V</tspan><tspan dx="9">Difference: -0.062 V</tspan><tspan dx="9">Last: 4.071 V</tspan></text>
<rect class="swy" x="620" y="907" width="13" height="4" rx="1"/>
<text class="l" x="641" y="908">data<tspan dx="9.5">Min: 4.009 V</tspan><tspan dx="9">Max: 4.159 V</tspan><tspan dx="9">Difference: -0.064 V</tspan><tspan dx="9">Last: 4.095 V</tspan></text>

<!-- ===== Panel J: Balancer ===== -->
<rect class="p" x="1187.5" y="711.5" width="386" height="240" rx="3"/>
<text class="t" x="1380" y="726">Balancer</text>
<path class="g" d="M1220,766H1540M1220,820H1540M1220,874H1540M1329,766V874M1458.4,766V874"/>
<text class="y" x="1214" y="766">100</text>
<text class="y" x="1214" y="820">50</text>
<text class="y" x="1214" y="874">0</text>
<path class="s" d="M1224,874H1540"/>
<text class="x" x="1329" y="888">09:15</text>
<text class="x" x="1458.4" y="888">09:20</text>
<rect class="sw" x="1211" y="907" width="13" height="4" rx="1"/>
<text class="l" x="1233" y="908">data<tspan dx="9.5">Min: 0</tspan><tspan dx="9">Max: 0</tspan><tspan dx="9">Mean: 0</tspan></text>
</svg>
</div>
</body></html>
